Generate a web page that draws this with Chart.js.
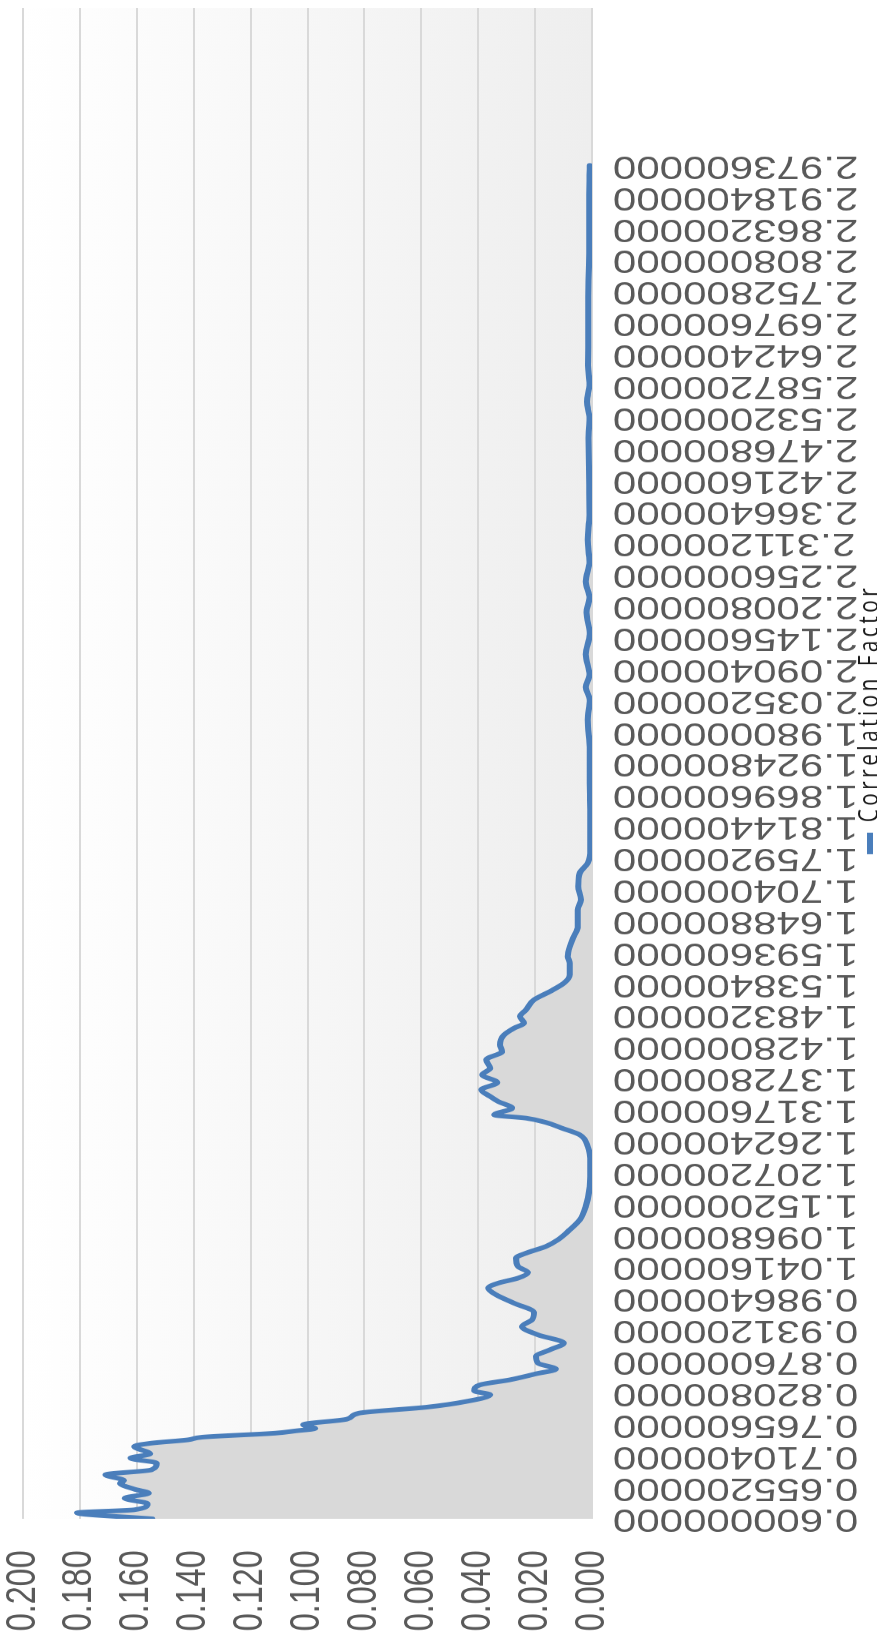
<!DOCTYPE html>
<html>
<head>
<meta charset="utf-8">
<title>Correlation Factor</title>
<script src="https://cdn.jsdelivr.net/npm/chart.js@4.4.1/dist/chart.umd.min.js"></script>
<style>
    html, body { margin: 0; padding: 0; background: #fff; }
    body { width: 877px; height: 1642px; overflow: hidden; position: relative; }
    /* the chart is drawn the normal way round, then turned a quarter left
       and squeezed along its category axis like the source picture */
    #corrChart {
        position: absolute; left: 0; top: 0;
        transform-origin: 0 0;
        transform: matrix(0, -0.77, 1, 0, 0, 1642);
    }
</style>
</head>
<body>
<canvas id="corrChart" width="2133" height="877"></canvas>
<script>
const xTickLabels = [
    0.6000, 0.6552, 0.7104, 0.7656, 0.8208, 0.8760, 0.9312, 0.9864, 1.0416, 1.0968,
    1.1520, 1.2072, 1.2624, 1.3176, 1.3728, 1.4280, 1.4832, 1.5384, 1.5936, 1.6488,
    1.7040, 1.7592, 1.8144, 1.8696, 1.9248, 1.9800, 2.0352, 2.0904, 2.1456, 2.2008,
    2.2560, 2.3112, 2.3664, 2.4216, 2.4768, 2.5320, 2.5872, 2.6424, 2.6976, 2.7528,
    2.8080, 2.8632, 2.9184, 2.9736
];
const yTickLabels = [0, 0.02, 0.04, 0.06, 0.08, 0.10, 0.12, 0.14, 0.16, 0.18, 0.20];

// series: distance and correlation factor
const corrX = [
    0.600, 0.6105, 0.6158, 0.6263, 0.6362, 0.645, 0.652, 0.6626, 0.6672, 0.6772,
    0.6859, 0.6976, 0.7064, 0.714, 0.7269, 0.7327, 0.7385, 0.7432, 0.7502, 0.7543,
    0.7584, 0.7649, 0.7748, 0.7853, 0.7958, 0.8058, 0.8175, 0.8245, 0.835, 0.8438,
    0.8543, 0.8625, 0.873, 0.8847, 0.8964, 0.9081, 0.9227, 0.9373, 0.949, 0.9619,
    0.9782, 0.9929, 1.0045, 1.0133, 1.0221, 1.032, 1.0425, 1.0572, 1.0659, 1.0776,
    1.0893, 1.1069, 1.1244, 1.1478, 1.1828, 1.2238, 1.253, 1.2735, 1.2852, 1.2951,
    1.3027, 1.3085, 1.3202, 1.3319, 1.3407, 1.3524, 1.3652, 1.3787, 1.3904, 1.405,
    1.4196, 1.4313, 1.4488, 1.4605, 1.4693, 1.481, 1.4927, 1.5102, 1.5248, 1.5394,
    1.5541, 1.5745, 1.5862, 1.6038, 1.6213, 1.6388, 1.6681, 1.6856, 1.709, 1.7324,
    1.75, 1.7733, 1.8318, 1.8902, 1.9487, 2.0013, 2.0364, 2.0586, 2.08, 2.1162,
    2.1513, 2.1895, 2.215, 2.2437, 2.2788, 2.317, 2.36, 2.4126, 2.4955, 2.53,
    2.5593, 2.59, 2.623, 2.687, 2.7442, 2.8273, 2.9229, 2.9736
];
const corrY = [
    0.1546, 0.181, 0.1609, 0.1562, 0.1642, 0.1558, 0.1609, 0.1659, 0.1645, 0.171,
    0.1548, 0.153, 0.1622, 0.1553, 0.1609, 0.1548, 0.142, 0.137, 0.1113, 0.104,
    0.0973, 0.1015, 0.0861, 0.0819, 0.0581, 0.0442, 0.0358, 0.0414, 0.0393, 0.0288,
    0.0197, 0.0127, 0.019, 0.0197, 0.0148, 0.0099, 0.019, 0.0246, 0.0211, 0.0204,
    0.0274, 0.0337, 0.0365, 0.033, 0.026, 0.0225, 0.026, 0.0267, 0.0232, 0.0162,
    0.012, 0.0078, 0.0043, 0.0022, 0.0008, 0.0006, 0.0015, 0.0043, 0.0106, 0.0162,
    0.0232, 0.0344, 0.0281, 0.033, 0.0358, 0.0389, 0.0333, 0.0386, 0.0358, 0.0372,
    0.0316, 0.0323, 0.0309, 0.0274, 0.0239, 0.0253, 0.0232, 0.0204, 0.0148, 0.0099,
    0.0078, 0.0078, 0.0085, 0.0078, 0.0064, 0.005, 0.005, 0.0039, 0.0048, 0.0043,
    0.0015, 0.0006, 0.0006, 0.0008, 0.0008, 0.0015, 0.0008, 0.0022, 0.0009, 0.0022,
    0.0008, 0.0019, 0.0009, 0.0022, 0.0009, 0.0015, 0.0009, 0.0010, 0.0012, 0.0009,
    0.0018, 0.0009, 0.0014, 0.0013, 0.0013, 0.0010, 0.0010, 0.0008
];

// soft grey fade behind the plot
const plotBackground = {
    id: 'plotBackground',
    beforeDraw(chart) {
        const { ctx, chartArea: a } = chart;
        const g = ctx.createLinearGradient(0, a.top, 0, a.bottom);
        g.addColorStop(0, '#ffffff');
        g.addColorStop(1, '#eeeeee');
        ctx.save();
        ctx.fillStyle = g;
        ctx.fillRect(a.left, a.top, a.right - a.left, a.bottom - a.top);
        ctx.restore();
    }
};

// the legend text in the source is stretched out wide, so it gets some
// letter spacing; tick labels are drawn later (ticks.z = 1) without it
const LEGEND_SPACING = '4.5px';
const legendTweaks = {
    id: 'legendTweaks',
    beforeLayout(chart) {
        chart.ctx.letterSpacing = LEGEND_SPACING;
    },
    afterLayout(chart) {
        chart.ctx.letterSpacing = '0px';
        const lg = chart.legend;
        if (!lg) return;
        // off centre and down against the edge, as in the source
        lg.left += 137;
        lg.right += 137;
        lg.top -= 3.5;
        lg.bottom -= 3.5;
    },
    beforeDraw(chart) {
        chart.ctx.letterSpacing = LEGEND_SPACING;
    },
    beforeDatasetsDraw(chart) {
        chart.ctx.letterSpacing = '0px';
    }
};

const tickFont = { family: 'Liberation Sans', size: 42 };

new Chart(document.getElementById('corrChart'), {
    type: 'line',
    data: {
        datasets: [{
            label: 'Correlation Factor',
            data: corrX.map((x, i) => ({ x: x, y: corrY[i] })),
            borderColor: '#4a7ebb',
            backgroundColor: '#d9d9d9',
            borderWidth: 6,
            borderCapStyle: 'round',
            borderJoinStyle: 'round',
            fill: 'origin',
            pointRadius: 0,
            cubicInterpolationMode: 'monotone'
        }]
    },
    options: {
        responsive: false,
        animation: false,
        devicePixelRatio: 1,
        // negative bottom: legend runs off the lower edge like the source
        layout: { padding: { top: 23, right: 11, bottom: -20, left: 0 } },
        plugins: {
            tooltip: { enabled: false },
            legend: {
                position: 'bottom',
                labels: {
                    usePointStyle: true,
                    pointStyle: 'line',
                    pointStyleWidth: 28,
                    padding: 0,
                    color: '#1a1a1a',
                    font: { family: 'Open Sans', size: 27 }
                }
            }
        },
        scales: {
            x: {
                type: 'linear',
                min: 0.6,
                max: 3.2496,
                grid: { display: false, drawTicks: false },
                border: { display: false },
                afterBuildTicks: s => { s.ticks = xTickLabels.map(v => ({ value: v })); },
                afterFit: s => { s.height = 268; },
                ticks: {
                    z: 1,
                    autoSkip: false,
                    minRotation: 90,
                    maxRotation: 90,
                    padding: 21,
                    color: '#595959',
                    font: tickFont,
                    callback: v => Number(v).toFixed(9)
                }
            },
            y: {
                min: 0,
                max: 0.2,
                afterBuildTicks: s => { s.ticks = yTickLabels.map(v => ({ value: v })); },
                afterFit: s => { s.width = 160; },
                // gap before the labels comes from an invisible tick mark,
                // tick padding would also push the plot top down
                grid: { color: '#d9d9d9', lineWidth: 2, drawTicks: true, tickLength: 41, tickColor: 'rgba(0,0,0,0)' },
                border: { display: false },
                ticks: {
                    z: 1,
                    padding: 0,
                    color: '#595959',
                    font: { family: 'Liberation Sans', size: 42, lineHeight: 1 },
                    callback: v => Number(v).toFixed(3)
                }
            }
        }
    },
    plugins: [plotBackground, legendTweaks]
});
</script>
</body>
</html>
